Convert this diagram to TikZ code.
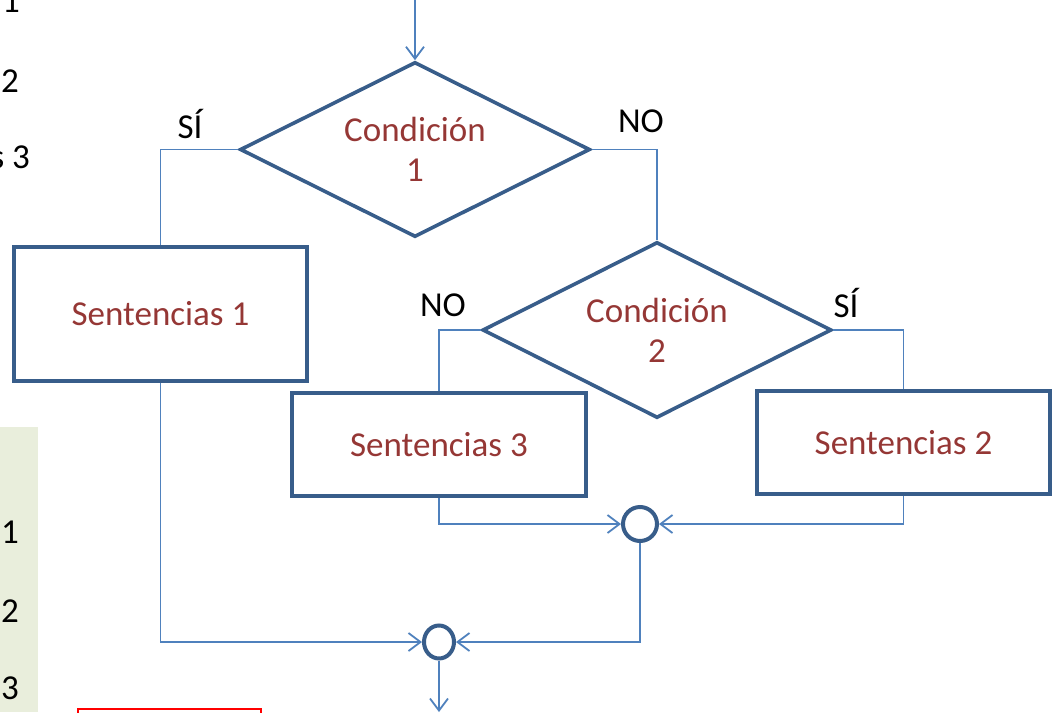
\documentclass[tikz,border=0pt]{standalone}
\usepackage{fontspec}
\setmainfont{Carlito}
\usetikzlibrary{shapes.geometric,arrows.meta}
\definecolor{edgeblue}{HTML}{385D8A}
\definecolor{linkblue}{HTML}{4F81BD}
\definecolor{textred}{HTML}{953735}
\definecolor{panelgreen}{HTML}{E9EEDC}
\tikzset{
  txt/.style={font=\fontsize{17.5pt}{20pt}\selectfont},
  stmt/.style={txt, draw=edgeblue, line width=1.8pt, text=textred, inner sep=0pt},
  cond/.style={stmt, diamond, aspect=2, align=center},
  joint/.style={ellipse, draw=edgeblue, line width=2pt, inner sep=0pt},
  link/.style={draw=linkblue, line width=0.9pt},
  flow/.style={link, -{Straight Barb[length=6pt,width=9pt]}},
  tag/.style={txt, text=black},
}
\begin{document}
\begin{tikzpicture}[x=0.5pt, y=-0.5pt]
\useasboundingbox (0,0) rectangle (1059,712);

% side panel and leftover margin text
\fill[panelgreen] (0,427) rectangle (38,712);
\node[tag, anchor=center] (m1) at (11,1) {1};
\node[tag, anchor=center] (m2) at (10,81) {2};
\node[tag, anchor=east] (m3) at (37,157) {s 3};
\node[tag] (p1) at (10,532) {1};
\node[tag] (p2) at (10,611) {2};
\node[tag] (p3) at (10,688) {3};
\draw[red, line width=1pt] (78,709) rectangle (261,740);

% decisions
\node[cond, minimum width=175pt, minimum height=87.5pt] (c1) at (415,149.5) {Condición\\1};
\node[cond, minimum width=174.5pt, minimum height=88pt] (c2) at (657,330) {Condición\\2};

% statement blocks
\node[stmt, minimum width=146.5pt, minimum height=67pt] (s1) at (160.5,314) {Sentencias 1};
\node[stmt, minimum width=147pt, minimum height=51.5pt] (s3) at (439,444.5) {Sentencias 3};
\node[stmt, minimum width=146.5pt, minimum height=51.5pt] (s2) at (903.5,442.5) {Sentencias 2};

% merge points
\node[joint, minimum width=17pt, minimum height=17pt] (j1) at (640,524) {};
\node[joint, minimum width=15pt, minimum height=16.5pt] (j2) at (439,642) {};

% branch labels
\node[tag] (l1) at (190,124) {SÍ};
\node[tag] (l2) at (641,121) {NO};
\node[tag] (l3) at (443,305) {NO};
\node[tag] (l4) at (846,303) {SÍ};

% connectors
\coordinate (in) at (415,0);
\coordinate (out) at (439,712);
\draw[flow] (in) -- (c1.north);
\draw[link] (c1.west) -| (s1.north);
\draw[link] (c1.east) -| (c2.north);
\draw[link] (c2.west) -| (s3.north);
\draw[link] (c2.east) -| (s2.north);
\draw[flow] (s3.south) |- (j1.west);
\draw[flow] (s2.south) |- (j1.east);
\draw[flow] (j1.south) |- (j2.east);
\draw[flow] (s1.south) |- (j2.west);
\draw[flow] (j2.south) -- (out);
\end{tikzpicture}
\end{document}
